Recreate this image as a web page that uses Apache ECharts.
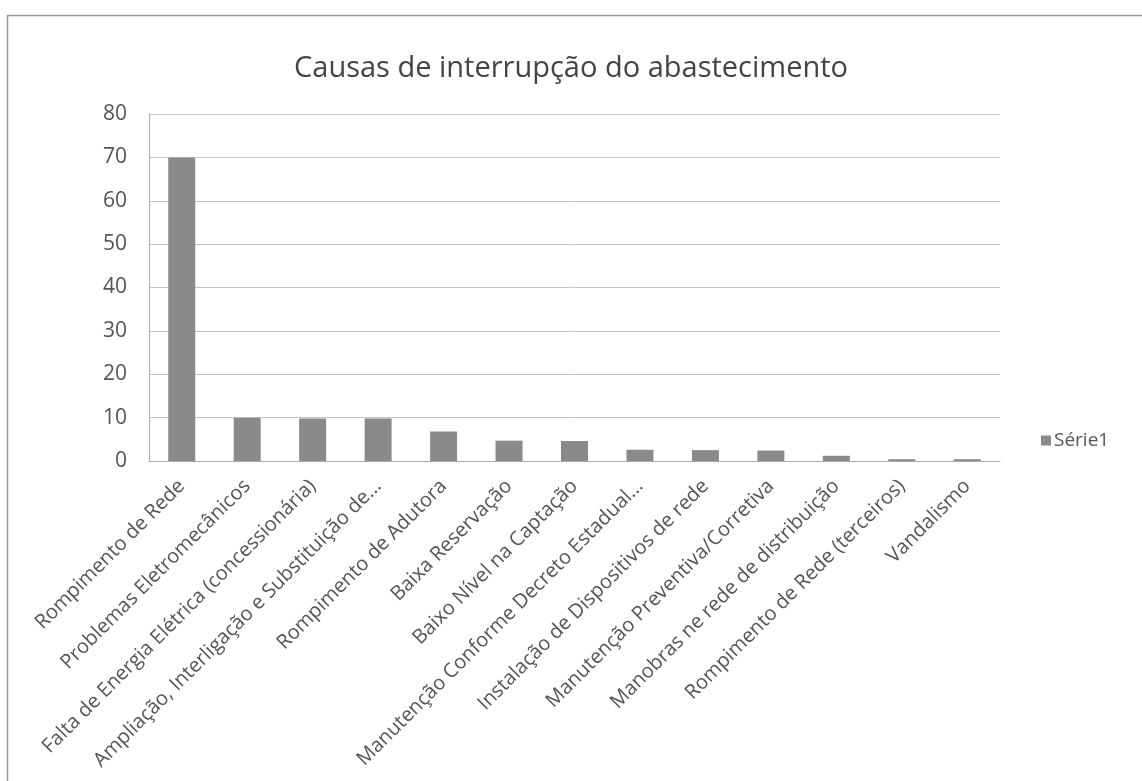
<!DOCTYPE html>
<html>
<head>
<meta charset="utf-8">
<script src="https://cdn.jsdelivr.net/npm/echarts@6/dist/echarts.min.js"></script>
<style>html,body{margin:0;padding:0;background:#fff;}#c{width:1142px;height:781px;}</style>
</head>
<body>
<div id="c"></div>
<script>
const categories = [
  "Rompimento de Rede",
  "Problemas Eletromecânicos",
  "Falta de Energia Elétrica (concessionária)",
  "Ampliação, Interligação e Substituição de...",
  "Rompimento de Adutora",
  "Baixa Reservação",
  "Baixo Nível na Captação",
  "Manutenção Conforme Decreto Estadual...",
  "Instalação de Dispositivos de rede",
  "Manutenção Preventiva/Corretiva",
  "Manobras ne rede de distribuição",
  "Rompimento de Rede (terceiros)",
  "Vandalismo"
];
const serie1 = [70, 10, 9.8, 9.8, 6.8, 4.7, 4.6, 2.6, 2.5, 2.4, 1.2, 0.4, 0.4];
const seriesName = "Série1";
const titleText = "Causas de interrupção do abastecimento";

const chart = echarts.init(document.getElementById('c'), null, {renderer: 'canvas'});
const font = "'Open Sans', 'Noto Sans', sans-serif";
chart.setOption({
  backgroundColor: '#ffffff',
  animation: false,
  title: {
    text: titleText,
    left: 'center',
    top: 49,
    textStyle: {fontFamily: font, fontSize: 29, fontWeight: 'normal', color: '#444'}
  },
  legend: {
    data: [seriesName],
    left: 1036,
    top: 426,
    itemWidth: 10,
    itemHeight: 10,
    itemGap: 4,
    icon: 'rect',
    textStyle: {fontFamily: font, fontSize: 19, color: '#555', padding: [0,0,0,-2]}
  },
  grid: {left: 149, right: 142, top: 114, bottom: 320, containLabel: false},
  xAxis: {
    type: 'category',
    data: categories,
    axisLine: {show: true, lineStyle: {color: '#aaa', width: 1}},
    axisTick: {show: false},
    axisLabel: {
      rotate: 45, interval: 0, margin: 22,
      fontFamily: font, fontSize: 20, color: '#555'
    }
  },
  yAxis: {
    type: 'value',
    min: 0, max: 80, interval: 10,
    axisLine: {show: true, lineStyle: {color: '#aaa', width: 1}},
    axisTick: {show: false},
    splitLine: {lineStyle: {color: '#c4c4c4', width: 1}},
    axisLabel: {fontFamily: font, fontSize: 21, color: '#555', margin: 22}
  },
  series: [{
    name: seriesName,
    type: 'bar',
    data: serie1,
    barWidth: 27,
    itemStyle: {color: '#8a8a8a'}
  }],
  graphic: [
    {type: 'line', shape: {x1: 7.5, y1: 15, x2: 7.5, y2: 781}, style: {stroke: '#999', lineWidth: 1.5}},
    {type: 'line', shape: {x1: 7, y1: 15.5, x2: 1142, y2: 15.5}, style: {stroke: '#999', lineWidth: 1.5}}
  ]
});
</script>
</body>
</html>
